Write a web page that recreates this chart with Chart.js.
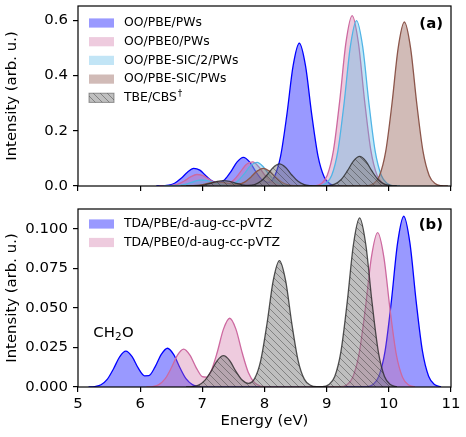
<!DOCTYPE html>
<html>
<head>
<meta charset="utf-8">
<script src="https://cdn.jsdelivr.net/npm/chart.js@4.4.0/dist/chart.umd.min.js"></script>
<style>
  body { margin: 0; background: #fff; }
  #wrap { position: relative; width: 466px; height: 437px; }
  canvas { position: absolute; left: 0; }
</style>
</head>
<body>
<div id="wrap">
  <canvas id="panelA" width="466" height="200" style="top:0"></canvas>
  <canvas id="panelB" width="466" height="237" style="top:200px"></canvas>
</div>
<script>
// Spectra (energy in eV, intensity in arb. u.)

// panel (a)
const ooPbeE = [6.26, 6.36, 6.46, 6.56, 6.66, 6.76, 6.86, 6.96, 7.06, 7.16, 7.26, 7.36, 7.46, 7.56, 7.66, 7.76, 7.86, 7.96, 8.06, 8.16, 8.26, 8.36, 8.46, 8.56, 8.66, 8.76, 8.86, 8.96, 9.06, 9.16, 9.26];
const ooPbeI = [0.0001, 0.0006, 0.0030, 0.0109, 0.0277, 0.0499, 0.0636, 0.0573, 0.0365, 0.0179, 0.0118, 0.0231, 0.0522, 0.0875, 0.104, 0.0875, 0.0521, 0.0229, 0.0134, 0.0340, 0.1093, 0.2585, 0.4348, 0.517, 0.4348, 0.2585, 0.1091, 0.0326, 0.0068, 0.0010, 0.0001];

const ooPbe0E = [6.31, 6.41, 6.51, 6.61, 6.71, 6.81, 6.91, 7.01, 7.11, 7.21, 7.31, 7.41, 7.51, 7.61, 7.71, 7.81, 7.91, 8.01, 8.11, 8.21, 8.31, 8.41, 8.51, 8.61, 8.71, 8.81, 8.91, 9.01, 9.11, 9.21, 9.31, 9.41, 9.51, 9.61, 9.71, 9.81, 9.91, 10.01, 10.11];
const ooPbe0I = [0.0001, 0.0004, 0.0020, 0.0071, 0.0182, 0.0328, 0.0417, 0.0376, 0.0240, 0.0111, 0.0050, 0.0080, 0.0228, 0.0502, 0.0788, 0.0874, 0.0686, 0.0381, 0.0150, 0.0042, 0.0008, 0.0001, 0, 0, 0.0001, 0.0012, 0.0081, 0.0389, 0.130, 0.3085, 0.519, 0.617, 0.519, 0.3085, 0.130, 0.0389, 0.0081, 0.0012, 0.0001];

const ooSic2E = [6.38, 6.48, 6.58, 6.68, 6.78, 6.88, 6.98, 7.08, 7.18, 7.28, 7.38, 7.48, 7.58, 7.68, 7.78, 7.88, 7.98, 8.08, 8.18, 8.28, 8.38, 8.48, 8.58, 8.68, 8.78, 8.88, 8.98, 9.08, 9.18, 9.28, 9.38, 9.48, 9.58, 9.68, 9.78, 9.88, 9.98, 10.08, 10.18];
const ooSic2I = [0, 0.0002, 0.0010, 0.0037, 0.0095, 0.0172, 0.0218, 0.0197, 0.0126, 0.0059, 0.0032, 0.0066, 0.0201, 0.0460, 0.0747, 0.0858, 0.0698, 0.0401, 0.0163, 0.0047, 0.0010, 0.0001, 0, 0, 0.0001, 0.0012, 0.0079, 0.0377, 0.1264, 0.2995, 0.5038, 0.599, 0.5038, 0.2995, 0.1264, 0.0377, 0.0079, 0.0012, 0.0001];

const ooSicE = [6.65, 6.75, 6.85, 6.95, 7.05, 7.15, 7.25, 7.38, 7.48, 7.58, 7.68, 7.78, 7.88, 7.98, 8.08, 8.18, 8.28, 8.38, 8.48, 8.58, 9.55, 9.65, 9.75, 9.85, 9.95, 10.05, 10.15, 10.25, 10.35, 10.45, 10.55, 10.65, 10.75, 10.85, 10.95];
const ooSicI = [0, 0.0002, 0.0009, 0.0032, 0.0075, 0.0126, 0.0150, 0.0113, 0.0068, 0.0063, 0.0141, 0.0321, 0.0538, 0.064, 0.0538, 0.032, 0.0135, 0.0040, 0.0008, 0.0001, 0.0001, 0.0012, 0.0078, 0.0374, 0.1253, 0.297, 0.4996, 0.594, 0.4996, 0.297, 0.1253, 0.0374, 0.0078, 0.0012, 0.0001];

// reference (both panels)
const tbeE = [6.74, 6.84, 6.94, 7.04, 7.14, 7.24, 7.34, 7.44, 7.54, 7.64, 7.74, 7.84, 7.94, 8.04, 8.14, 8.24, 8.34, 8.44, 8.54, 8.64, 8.74, 8.84, 8.93, 9.03, 9.13, 9.23, 9.33, 9.43, 9.53, 9.63, 9.73, 9.83, 9.93, 10.03, 10.13];
const tbeI = [0, 0.0003, 0.0012, 0.0042, 0.0099, 0.0167, 0.0198, 0.0167, 0.0099, 0.0044, 0.0023, 0.0053, 0.0169, 0.040, 0.0673, 0.080, 0.0673, 0.040, 0.0169, 0.0050, 0.0011, 0.0002, 0.0002, 0.0014, 0.0067, 0.0226, 0.0535, 0.090, 0.107, 0.090, 0.0535, 0.0226, 0.0067, 0.0014, 0.0002];

// panel (b)
const tdaPbeE = [5.17, 5.27, 5.37, 5.47, 5.57, 5.67, 5.77, 5.87, 5.97, 6.07, 6.14, 6.24, 6.34, 6.44, 6.54, 6.64, 6.74, 6.84, 6.94, 7.04, 9.64, 9.74, 9.84, 9.94, 10.04, 10.14, 10.24, 10.34, 10.44, 10.54, 10.64, 10.74, 10.84];
const tdaPbeI = [0, 0.0003, 0.0014, 0.0048, 0.0114, 0.0191, 0.0227, 0.0192, 0.0119, 0.0071, 0.0072, 0.0127, 0.0206, 0.0245, 0.0205, 0.0122, 0.0051, 0.0015, 0.0003, 0, 0.0002, 0.0014, 0.0068, 0.0228, 0.054, 0.0908, 0.108, 0.0908, 0.054, 0.0228, 0.0068, 0.0014, 0.0002];

const tdaPbe0E = [6.10, 6.20, 6.30, 6.40, 6.50, 6.60, 6.70, 6.80, 6.90, 7.00, 7.07, 7.14, 7.24, 7.34, 7.44, 7.54, 7.64, 7.74, 7.84, 7.94, 8.04, 9.22, 9.32, 9.42, 9.52, 9.62, 9.72, 9.82, 9.92, 10.02, 10.12, 10.22, 10.32, 10.42];
const tdaPbe0I = [0, 0.0003, 0.0015, 0.0051, 0.0120, 0.0202, 0.0240, 0.0202, 0.0123, 0.0066, 0.0063, 0.0100, 0.0220, 0.0366, 0.0435, 0.0366, 0.0218, 0.0092, 0.0027, 0.0006, 0.0001, 0.0002, 0.0013, 0.0062, 0.0206, 0.0489, 0.0822, 0.0977, 0.0822, 0.0489, 0.0206, 0.0062, 0.0013, 0.0002];

const topLabels = ['OO/PBE/PWs', 'OO/PBE0/PWs', 'OO/PBE-SIC/2/PWs', 'OO/PBE-SIC/PWs', 'TBE/CBS\u2020'];
const bottomLabels = ['TDA/PBE/d-aug-cc-pVTZ', 'TDA/PBE0/d-aug-cc-pVTZ'];

Chart.defaults.font.family = '"DejaVu Sans", sans-serif';
Chart.defaults.font.size = 14.9;
Chart.defaults.color = '#000';

// colours
const blueLine = 'rgb(0,0,255)', blueFill = 'rgba(0,0,255,0.4)';
const pinkLine = 'rgb(205,105,160)', pinkFill = 'rgba(205,105,160,0.35)';
const cyanLine = 'rgb(80,180,230)', cyanFill = 'rgba(80,180,230,0.35)';
const brownLine = 'rgb(140,86,75)', brownFill = 'rgba(140,86,75,0.4)';
const grayLine = 'rgba(40,40,40,0.8)';

function makeHatch(canvasId) {
  const c = document.createElement('canvas');
  c.width = 7; c.height = 7;
  const g = c.getContext('2d');
  g.fillStyle = 'rgba(128,128,128,0.5)';
  g.fillRect(0, 0, 7, 7);
  g.strokeStyle = 'rgba(40,40,40,0.45)';
  g.lineWidth = 0.9;
  for (const off of [-7, 0, 7]) {
    g.beginPath(); g.moveTo(off, 0); g.lineTo(off + 7, 7); g.stroke();
  }
  return document.getElementById(canvasId).getContext('2d').createPattern(c, 'repeat');
}
const hatchA = makeHatch('panelA');
const hatchB = makeHatch('panelB');

function series(label, xs, ys, line, fill, order) {
  return {
    label: label,
    data: xs.map((x, i) => ({ x: x, y: ys[i] })),
    borderColor: line,
    backgroundColor: fill,
    borderWidth: 1.3,
    fill: 'origin',
    order: order,
    pointRadius: 0,
    cubicInterpolationMode: 'monotone'
  };
}

// box around the plot area, like matplotlib spines
const framePlugin = {
  id: 'frame',
  afterDraw(chart) {
    const { ctx, chartArea: a } = chart;
    ctx.save();
    ctx.strokeStyle = '#000';
    ctx.lineWidth = 1.2;
    ctx.strokeRect(a.left, a.top, a.right - a.left, a.bottom - a.top);
    ctx.restore();
  }
};

function legendPlugin(entries, y0, dy) {
  return {
    id: 'boxLegend',
    afterDraw(chart) {
      const ctx = chart.ctx;
      ctx.save();
      ctx.textBaseline = 'middle';
      entries.forEach((e, i) => {
        const y = y0 + i * dy;
        ctx.fillStyle = e.fill;
        ctx.fillRect(89, y - 4.6, 25, 9.2);
        if (e.edge) {
          ctx.strokeStyle = e.edge;
          ctx.lineWidth = 1;
          ctx.strokeRect(89, y - 4.6, 25, 9.2);
        }
        ctx.fillStyle = '#000';
        ctx.font = '12.4px "DejaVu Sans"';
        // a trailing dagger is set as a superscript
        const sup = e.label.endsWith('\u2020');
        const main = sup ? e.label.slice(0, -1) : e.label;
        ctx.fillText(main, 124, y);
        if (sup) {
          const w = ctx.measureText(main).width;
          ctx.font = '9px "DejaVu Sans"';
          ctx.fillText('\u2020', 124 + w + 1, y - 4);
        }
      });
      ctx.restore();
    }
  };
}

function notesPlugin(tag, tagY, extra) {
  return {
    id: 'notes',
    afterDraw(chart) {
      const ctx = chart.ctx;
      ctx.save();
      ctx.fillStyle = '#000';
      ctx.font = 'bold 14.9px "DejaVu Sans"';
      ctx.textAlign = 'right';
      ctx.textBaseline = 'middle';
      ctx.fillText(tag, 443, tagY);
      if (extra) extra(ctx);
      ctx.restore();
    }
  };
}

function panelOptions(yMax, yStep, digits, isBottom) {
  return {
    responsive: false,
    animation: false,
    devicePixelRatio: 1,
    layout: { padding: isBottom ? { top: 9, right: 15, bottom: 0, left: 0 } : { top: 6, right: 15, bottom: 6, left: 0 } },
    plugins: { legend: { display: false }, tooltip: { enabled: false } },
    scales: {
      x: {
        type: 'linear', min: 5, max: 11,
        ticks: { stepSize: 1, padding: 3, callback: v => isBottom ? v : '' },
        grid: { drawOnChartArea: false, color: '#000', lineWidth: 1.2, tickLength: 5 },
        border: { display: false },
        title: { display: isBottom, text: 'Energy (eV)', padding: { top: 0, bottom: 7 } },
        afterFit: s => { s.height = isBottom ? 50 : 8; s.paddingLeft = 0; s.paddingRight = 0; }
      },
      y: {
        min: 0, max: yMax,
        ticks: { stepSize: yStep, includeBounds: false, padding: 5, callback: v => v.toFixed(digits) },
        grid: { drawOnChartArea: false, color: '#000', lineWidth: 1.2, tickLength: 5 },
        border: { display: false },
        title: { display: true, text: 'Intensity (arb. u.)', padding: { top: 3.5, bottom: 0 } },
        afterFit: s => { s.width = 78; s.paddingTop = 0; s.paddingBottom = 0; }
      }
    }
  };
}

// panel (a)
new Chart(document.getElementById('panelA'), {
  type: 'line',
  data: {
    datasets: [
      series(topLabels[0], ooPbeE, ooPbeI, blueLine, blueFill, 4),
      series(topLabels[1], ooPbe0E, ooPbe0I, pinkLine, pinkFill, 3),
      series(topLabels[2], ooSic2E, ooSic2I, cyanLine, cyanFill, 2),
      series(topLabels[3], ooSicE, ooSicI, brownLine, brownFill, 1),
      series(topLabels[4], tbeE, tbeI, grayLine, hatchA, 0)
    ]
  },
  options: panelOptions(0.652, 0.2, 1, false),
  plugins: [
    framePlugin,
    legendPlugin([
      { label: topLabels[0], fill: blueFill },
      { label: topLabels[1], fill: pinkFill },
      { label: topLabels[2], fill: cyanFill },
      { label: topLabels[3], fill: brownFill },
      { label: topLabels[4], fill: hatchA, edge: 'rgba(60,60,60,0.5)' }
    ], 23, 18.7),
    notesPlugin('(a)', 24)
  ]
});

// panel (b)
new Chart(document.getElementById('panelB'), {
  type: 'line',
  data: {
    datasets: [
      series(bottomLabels[0], tdaPbeE, tdaPbeI, blueLine, blueFill, 2),
      series(bottomLabels[1], tdaPbe0E, tdaPbe0I, pinkLine, pinkFill, 1),
      series('TBE/CBS\u2020', tbeE, tbeI, grayLine, hatchB, 0)
    ]
  },
  options: panelOptions(0.1126, 0.025, 3, true),
  plugins: [
    framePlugin,
    legendPlugin([
      { label: bottomLabels[0], fill: blueFill },
      { label: bottomLabels[1], fill: pinkFill }
    ], 24, 18.5),
    notesPlugin('(b)', 25.5, ctx => {
      // CH2O label with subscript
      ctx.textAlign = 'left';
      ctx.textBaseline = 'alphabetic';
      ctx.font = '14.9px "DejaVu Sans"';
      ctx.fillText('CH', 93.3, 136.7);
      const w = ctx.measureText('CH').width;
      ctx.font = '10.4px "DejaVu Sans"';
      ctx.fillText('2', 93.3 + w, 139.5);
      const w2 = ctx.measureText('2').width;
      ctx.font = '14.9px "DejaVu Sans"';
      ctx.fillText('O', 93.3 + w + w2 + 0.5, 136.7);
    })
  ]
});
</script>
</body>
</html>
